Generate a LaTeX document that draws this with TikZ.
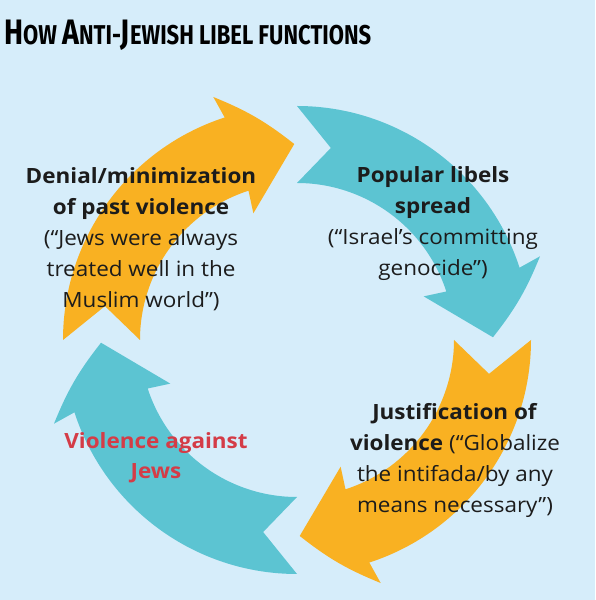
\documentclass[tikz,border=0pt]{standalone}
\usepackage{fontspec}
\setmainfont{Open Sans}[FakeStretch=1.07]
\newfontfamily\titlefont{Fira Sans}
\usepackage{graphicx}
\definecolor{bgblue}{HTML}{D6EDFA}
\definecolor{libelorange}{HTML}{F9B122}
\definecolor{libelteal}{HTML}{5CC4D2}
\definecolor{libelred}{HTML}{D43C47}
\definecolor{inkdark}{HTML}{1C1C1C}
\newcommand{\titlebig}{\fontsize{26}{26}\selectfont}
\newcommand{\titlesmall}{\fontsize{20}{20}\selectfont}

\begin{document}
\begin{tikzpicture}[
    x=1pt, y=1pt,
    stage/.style={align=center, inner sep=0pt, text=inkdark, font=\fontsize{21}{31}\selectfont},
    victims/.style={stage, text=libelred, font=\fontsize{21}{30}\selectfont\bfseries},
    heading/.style={anchor=base west, inner sep=0pt, text=black},
]
    \fill[bgblue] (0,0) rectangle (595,600);
    \useasboundingbox (0,0) rectangle (595,600);

    % four curved arrows round the centre of the cycle
    \foreach \k/\col in {0/libelorange, 1/libelteal, 2/libelorange, 3/libelteal} {
        \begin{scope}[shift={(297,260)}, rotate=-90*\k]
            \fill[\col] (180:234) arc[start angle=180, end angle=108, radius=234]
                -- (109:257) to[bend left=8] (90.8:196) -- (109:134) -- (108:157)
                arc[start angle=108, end angle=180, radius=157]
                -- (170:195) -- cycle;
        \end{scope}
    }

    \node[heading] (title) at (4,555) {\resizebox{367pt}{24.5pt}{\titlefont\bfseries
        \titlebig H\titlesmall OW \titlebig A\titlesmall NTI-\titlebig J\titlesmall EWISH LIBEL FUNCTIONS}};

    \node[stage] (denial) at (141,361) {\textbf{Denial/minimization}\\\textbf{of past violence}\\(“Jews were always\\treated well in the\\Muslim world”)};
    \node[stage] (libels) at (433,376) {\textbf{Popular libels}\\\textbf{spread}\\(“Israel’s committing\\genocide”)};
    \node[stage] (justify) at (455,140) {\textbf{Justification of}\\\textbf{violence} (“Globalize\\the intifada/by any\\means necessary”)};
    \node[victims] (violence) at (156,142) {Violence against\\Jews};
\end{tikzpicture}
\end{document}
